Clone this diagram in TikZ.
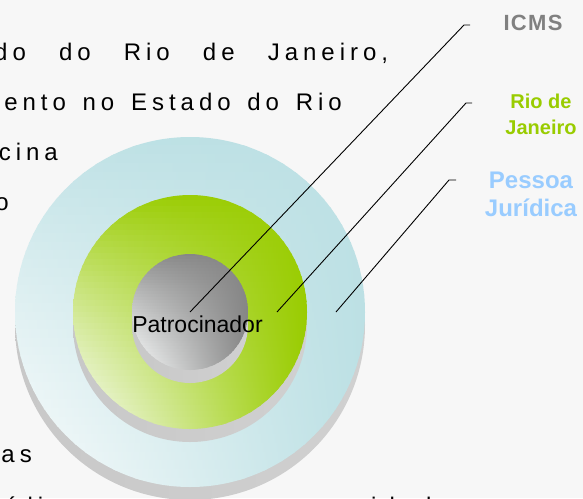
\documentclass[tikz,border=0pt]{standalone}
\usepackage{fontspec}
\setmainfont{Liberation Sans}
\newfontfamily\bodyfont{Liberation Sans}
\newfontfamily\tagfont[LetterSpace=6]{Liberation Sans}
\usepackage{tikz}
\usetikzlibrary{calc}

\definecolor{bgcol}{HTML}{F7F7F7}
\definecolor{facewhite}{HTML}{FAFCFC}
\definecolor{ringblue}{HTML}{BCE0E4}
\definecolor{ringgreen}{HTML}{99CC00}
\definecolor{hubgray}{HTML}{858585}
\definecolor{wallL}{HTML}{C8C8C8}
\definecolor{wallM}{HTML}{969696}
\definecolor{wallR}{HTML}{D0D0D0}
\definecolor{icmsgray}{HTML}{808080}
\definecolor{riogreen}{HTML}{99CC00}
\definecolor{pjblue}{HTML}{99CCFF}

% wide letter spacing, words joined by ~
\def\spreadend{\spreadend}
\def\spreadloop#1{\ifx#1\spreadend\else#1\kern5pt\expandafter\spreadloop\fi}
\newcommand{\spread}[1]{\spreadloop#1\spreadend}

% top face of a disc, white in the lower left corner
\newcommand{\facedisc}[4]{%
  \begin{scope}
    \clip (#1,#2) circle[radius=#3];
    \foreach \k in {0,...,39}{
      \pgfmathsetmacro{\facew}{((\k+0.5)/40)^0.75}
      \pgfmathsetmacro{\faceleft}{100*(1-\facew)}
      \pgfmathsetmacro{\facemid}{100*(1-0.5946*\facew)}
      \shade[left color=#4!\faceleft!facewhite, middle color=#4!\facemid!facewhite,
          right color=#4]
        (#1-#3,#2-#3+\k*#3/20) rectangle (#1+#3,#2-#3+\k*#3/20+#3/20+1);
    }
  \end{scope}}

\tikzset{
  leader/.style={black, line width=0.9pt},
  bodytext/.style={font=\bodyfont\fontsize{24}{28}\selectfont,
    inner sep=0pt, anchor=base east},
  tag/.style={align=center, inner sep=0pt},
  wall/.style={left color=wallL, middle color=wallM, right color=wallR},
}

\begin{document}
\begin{tikzpicture}[x=1pt, y=-1pt]
  \path[use as bounding box, fill=bgcol] (0,0) rectangle (583,498);

  % paragraph behind the discs
  \node[bodytext, anchor=base west] (line1) at (-6,60)
    {\makebox[399pt][s]{\spread{do~do~Rio~de~Janeiro,}}};
  \node[bodytext] (line2) at (347,110) {\spread{ento~no~Estado~do~Rio}};
  \node[bodytext] (line3) at (63,160) {\spread{cina}};
  \node[bodytext] (line4) at (14,210) {\spread{o}};
  \node[bodytext] (line5) at (37,462) {\spread{as}};
  \node[bodytext, anchor=base west] (line6a) at (-34,514) {\spread{jurídicas}};
  \node[bodytext, anchor=base west] (line6b) at (354,514) {\spread{cidade}};

  % discs
  \shade[wall] (190,325) circle[radius=175];
  \facedisc{190}{312}{175}{ringblue}
  \shade[wall] (190,325) circle[radius=117];
  \facedisc{190}{312}{117}{ringgreen}
  \shade[wall] (190,325) circle[radius=58];
  \facedisc{190}{312}{58}{hubgray}

  \node[font=\fontsize{23}{27}\selectfont, inner sep=0pt, anchor=base]
    (sponsor) at (197.5,332) {Patrocinador};

  % labels
  \node[tag, text=icmsgray, font=\tagfont\bfseries\fontsize{22}{26}\selectfont]
    (icms) at (533,23) {ICMS};
  \node[tag, text=riogreen, font=\bfseries\fontsize{20}{26}\selectfont]
    (rio) at (541,114) {Rio de\\Janeiro};
  \node[tag, text=pjblue, font=\bfseries\fontsize{24}{28}\selectfont]
    (pj) at (531,194) {Pessoa\\Jurídica};

  % leaders
  \coordinate (icms-foot) at (190,312);
  \coordinate (icms-knee) at (464,25);
  \coordinate (icms-end) at (470,25);
  \coordinate (rio-foot) at (277,312);
  \coordinate (rio-knee) at (466,103);
  \coordinate (rio-end) at (472,103);
  \coordinate (pj-foot) at (336,312);
  \coordinate (pj-knee) at (449,180);
  \coordinate (pj-end) at (456,180);
  \draw[leader] (icms-foot) -- (icms-knee) -- (icms-end);
  \draw[leader] (rio-foot) -- (rio-knee) -- (rio-end);
  \draw[leader] (pj-foot) -- (pj-knee) -- (pj-end);
\end{tikzpicture}
\end{document}
